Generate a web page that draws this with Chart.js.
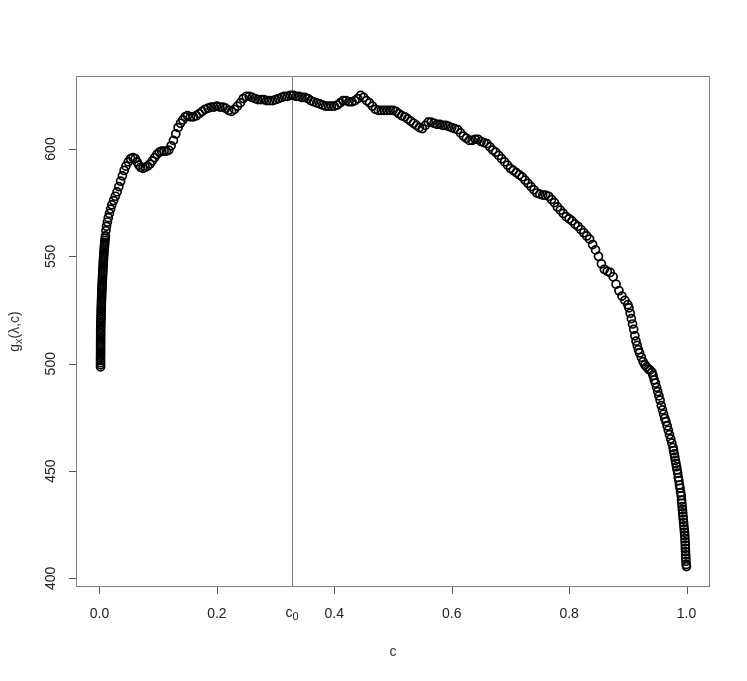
<!DOCTYPE html>
<html>
<head>
<meta charset="utf-8">
<script src="https://cdn.jsdelivr.net/npm/chart.js@4.4.1/dist/chart.umd.min.js"></script>
<style>
  body { margin: 0; background: #fff; }
  canvas { display: block; }
</style>
</head>
<body>
<canvas id="gplot" width="747" height="681"></canvas>
<script>
// values
const cVals = [
  // steep start near c = 0
  0.0018, 0.0018, 0.0018, 0.0018, 0.0018, 0.0018, 0.0019, 0.0019, 0.0019, 0.0019,
  0.0019, 0.0019, 0.002, 0.002, 0.002, 0.002, 0.002, 0.002,
  0.0021, 0.0022, 0.0023, 0.0024, 0.0025, 0.0026, 0.0027, 0.0028, 0.0029, 0.0030,
  0.0031, 0.0032, 0.0033, 0.0034, 0.0036, 0.0037, 0.0038, 0.0040, 0.0041, 0.0043,
  0.0044, 0.0046, 0.0048, 0.0050, 0.0052, 0.0054, 0.0056, 0.0058, 0.0060,
  0.0062, 0.0064, 0.0066, 0.0068, 0.0070, 0.0072, 0.0075, 0.0078, 0.0081, 0.0084,
  0.0087, 0.0090, 0.0094, 0.0098, 0.0102,
  0.011, 0.012, 0.0135, 0.015, 0.017, 0.019, 0.021, 0.024,
  0.027, 0.030, 0.033, 0.036, 0.039, 0.042, 0.045, 0.049, 0.053, 0.057,
  0.061, 0.064, 0.067, 0.070, 0.074, 0.078, 0.082, 0.086, 0.090, 0.094,
  0.098, 0.102, 0.106, 0.110, 0.114, 0.118, 0.122, 0.126, 0.130, 0.134,
  0.138, 0.142, 0.146, 0.150, 0.155, 0.160, 0.165, 0.170, 0.175, 0.180,
  0.185, 0.190, 0.195, 0.200, 0.205, 0.210, 0.215, 0.220, 0.225, 0.230,
  0.235, 0.240, 0.245, 0.250, 0.255, 0.260, 0.265, 0.270, 0.275, 0.280,
  0.285, 0.290, 0.295, 0.300, 0.305, 0.310, 0.315, 0.320, 0.325, 0.330,
  0.335, 0.340, 0.345, 0.350, 0.355, 0.360, 0.365, 0.370, 0.375, 0.380,
  0.385, 0.390, 0.395, 0.400, 0.405, 0.410, 0.415, 0.420, 0.425, 0.430,
  0.435, 0.440, 0.445, 0.450, 0.455, 0.460, 0.465, 0.470, 0.475, 0.480,
  0.485, 0.490, 0.495, 0.500, 0.505, 0.510, 0.515, 0.520, 0.525, 0.530,
  0.535, 0.540, 0.545, 0.550, 0.555, 0.560, 0.565, 0.570, 0.575, 0.580,
  0.585, 0.590, 0.595, 0.600, 0.605, 0.610, 0.615, 0.620, 0.625, 0.630,
  0.635, 0.640, 0.645, 0.650, 0.655, 0.660, 0.665, 0.670, 0.675, 0.680,
  0.685, 0.690, 0.695, 0.700, 0.705, 0.710, 0.715, 0.720, 0.725, 0.730,
  0.735, 0.740, 0.745, 0.750, 0.755, 0.760, 0.765, 0.770, 0.775, 0.780,
  0.785, 0.790, 0.795, 0.800, 0.805, 0.810, 0.815, 0.820, 0.825, 0.830,
  0.835, 0.840, 0.845, 0.850, 0.855, 0.860, 0.865, 0.870, 0.875, 0.880,
  0.885, 0.890, 0.895,
  // steep fall towards c = 1
  0.900, 0.902, 0.904, 0.906, 0.908, 0.910, 0.912, 0.914, 0.916, 0.918,
  0.920, 0.923, 0.926, 0.929, 0.932, 0.935, 0.938, 0.941, 0.943, 0.945,
  0.947, 0.949, 0.951, 0.953, 0.955, 0.957, 0.959, 0.961, 0.963, 0.965,
  0.967, 0.969, 0.971, 0.973, 0.975, 0.977, 0.978, 0.979, 0.980, 0.981,
  0.982, 0.983, 0.984, 0.985, 0.986, 0.987, 0.988, 0.989, 0.990, 0.991,
  0.9915, 0.992, 0.9925, 0.993, 0.9935, 0.994, 0.9945, 0.995, 0.9955, 0.996,
  0.9965, 0.997, 0.9973, 0.9976, 0.9979, 0.998, 0.9983, 0.9986, 0.9988, 0.999,
  0.9995, 1.000
];
const gVals = [
  498.5, 499.5, 500.5, 501.5, 502.5, 503.5, 504.5, 505.5, 506.5, 507.5,
  508.5, 509.5, 510.5, 511.5, 512.5, 513.5, 514.5, 515.5,
  516.5, 517.5, 518.5, 519.5, 520.5, 521.5, 522.5, 523.5, 524.5, 525.5,
  526.5, 527.5, 528.5, 529.5, 530.5, 531.5, 532.5, 533.5, 534.5, 535.5,
  536.5, 537.5, 538.5, 539.5, 540.5, 541.5, 542.5, 543.5, 544.5,
  545.5, 546.5, 547.5, 548.5, 549.5, 550.5, 551.5, 552.5, 553.5, 554.5,
  555.5, 556.5, 557.5, 558.5, 559.5,
  562, 564, 566, 568, 570, 572, 574, 576,
  578, 580, 582.5, 585, 587.5, 590, 592, 594, 595.5, 596,
  595.5, 594, 592.5, 591.5, 591, 591.5, 592, 593, 594.5, 596,
  597.5, 598.5, 599, 599, 599, 599.5, 601.5, 604, 607, 610,
  612, 613.5, 615, 615.5, 615, 615, 615.5, 616.5, 617.5, 618.5,
  619, 619.5, 619.5, 620, 619.5, 619.5, 619, 618, 617.5, 618.5,
  620, 621.5, 623.5, 624.5, 624.5, 624, 623.5, 623, 623, 623,
  622.5, 622.5, 622.5, 623, 623.5, 624, 624.5, 624.5, 625, 625,
  624.5, 624.5, 624, 624, 623.5, 622.5, 622, 621.5, 621, 620.5,
  620, 620, 620, 620, 620.5, 621.5, 622.5, 622.5, 622, 622,
  622.5, 623.5, 625, 624, 622.5, 621.5, 620, 618.5, 618, 618,
  618, 618, 618, 618, 617.5, 616.5, 615.5, 615, 614, 613,
  612, 611, 610, 609.5, 611, 612.5, 612.5, 612, 611.5, 611.5,
  611, 611, 610.5, 610, 609.5, 609, 607.5, 606, 605, 604,
  604, 604.5, 604.5, 603.5, 603, 602.5, 601, 599.5, 598.5, 597,
  595.5, 594, 592.5, 591, 590, 589, 588, 587, 585.5, 584,
  582.5, 581, 579.5, 579, 578.5, 578.5, 578, 576.5, 575, 573,
  571.5, 570, 568.5, 567.5, 566.5, 565, 564, 562.5, 561, 559.5,
  558, 555.5, 553, 550, 546.5, 544, 543, 542.5, 540.5, 537,
  534, 531.5, 529.5,
  527.5, 526, 523.5, 521, 518.5, 516, 513, 510.5, 508.5, 506.5,
  505, 503, 501, 499.5, 498.5, 497.5, 497, 496, 494.5, 492.5,
  491, 489, 487, 485, 483, 480.5, 478.5, 476.5, 474.5, 473,
  471, 469, 467, 465, 463, 461, 459.5, 458, 456.5, 455,
  453.5, 452, 450.5, 449, 447, 445.5, 443.5, 442, 440, 438.5,
  436.5, 435, 433.5, 432, 430.5, 429, 427.5, 426, 424.5, 423,
  421.5, 420, 418.5, 417, 415.5, 414, 412.5, 411, 409.5, 408,
  406.5, 405.5
];
const xTicks = [0, 0.2, 0.4, 0.6, 0.8, 1.0];
const xTickLabels = ['0.0', '0.2', '0.4', '0.6', '0.8', '1.0'];
const yTicks = [400, 450, 500, 550, 600];
const c0 = 0.328;

const points = cVals.map((c, i) => ({ x: c, y: gVals[i] }));
const FONT_FAMILY = '"Liberation Sans", Arial, sans-serif';

// base letter + subscript (+ rest), centred on the current origin
function drawSub(ctx, base, sub, rest, size) {
  const small = Math.round(size * 0.75);
  ctx.font = size + 'px ' + FONT_FAMILY;
  const wb = ctx.measureText(base).width;
  const wr = rest ? ctx.measureText(rest).width : 0;
  ctx.font = small + 'px ' + FONT_FAMILY;
  const ws = ctx.measureText(sub).width;
  const x0 = -(wb + ws + wr) / 2;
  ctx.textAlign = 'left';
  ctx.textBaseline = 'alphabetic';
  ctx.font = size + 'px ' + FONT_FAMILY;
  ctx.fillText(base, x0, size * 0.35);
  ctx.font = small + 'px ' + FONT_FAMILY;
  ctx.fillText(sub, x0 + wb, size * 0.6);
  if (rest) {
    ctx.font = size + 'px ' + FONT_FAMILY;
    ctx.fillText(rest, x0 + wb + ws, size * 0.35);
  }
}

const rAxes = {
  id: 'rAxes',
  beforeDatasetsDraw(chart) {
    const { ctx, chartArea: a, scales: { x } } = chart;
    const px = Math.round(x.getPixelForValue(c0)) + 0.5;
    ctx.save();
    ctx.strokeStyle = '#808080';
    ctx.lineWidth = 1;
    ctx.beginPath();
    ctx.moveTo(px, a.top);
    ctx.lineTo(px, a.bottom);
    ctx.stroke();
    ctx.restore();
  },
  afterDraw(chart) {
    const { ctx, chartArea: a, scales: { x, y } } = chart;
    ctx.save();
    // box
    ctx.strokeStyle = '#808080';
    ctx.lineWidth = 1;
    ctx.strokeRect(Math.round(a.left) + 0.5, Math.round(a.top) + 0.5,
      Math.round(a.right - a.left) - 1, Math.round(a.bottom - a.top) - 1);

    // ticks
    ctx.strokeStyle = '#555';
    ctx.beginPath();
    xTicks.forEach(v => {
      const px = Math.round(x.getPixelForValue(v)) + 0.5;
      ctx.moveTo(px, a.bottom);
      ctx.lineTo(px, a.bottom + 7);
    });
    yTicks.forEach(v => {
      const py = Math.round(y.getPixelForValue(v)) + 0.5;
      ctx.moveTo(a.left, py);
      ctx.lineTo(a.left - 7, py);
    });
    ctx.stroke();

    // tick labels
    ctx.fillStyle = '#222';
    ctx.font = '14px ' + FONT_FAMILY;
    ctx.textAlign = 'center';
    ctx.textBaseline = 'middle';
    xTicks.forEach((v, i) => {
      ctx.fillText(xTickLabels[i], x.getPixelForValue(v), a.bottom + 27);
    });
    yTicks.forEach(v => {
      ctx.save();
      ctx.translate(a.left - 25, y.getPixelForValue(v));
      ctx.rotate(-Math.PI / 2);
      ctx.fillText(String(v), 0, 0);
      ctx.restore();
    });

    // c0 label
    ctx.save();
    ctx.translate(x.getPixelForValue(c0), a.bottom + 25);
    drawSub(ctx, 'c', '0', '', 14);
    ctx.restore();

    // axis titles
    ctx.fillStyle = '#333';
    ctx.font = '14px ' + FONT_FAMILY;
    ctx.textAlign = 'center';
    ctx.textBaseline = 'middle';
    ctx.fillText('c', (a.left + a.right) / 2, a.bottom + 65);
    ctx.save();
    ctx.translate(14, (a.top + a.bottom) / 2);
    ctx.rotate(-Math.PI / 2);
    drawSub(ctx, 'g', 'x', '(\u03bb,c)', 14);
    ctx.restore();
    ctx.restore();
  }
};

new Chart(document.getElementById('gplot'), {
  type: 'scatter',
  data: {
    datasets: [{
      data: points,
      pointStyle: 'circle',
      pointRadius: 4,
      borderColor: '#000',
      borderWidth: 1.7,
      backgroundColor: 'rgba(0,0,0,0)'
    }]
  },
  options: {
    responsive: false,
    animation: false,
    layout: { padding: { left: 76, right: 37, top: 76, bottom: 94 } },
    plugins: {
      legend: { display: false },
      tooltip: { enabled: false }
    },
    scales: {
      x: { type: 'linear', min: -0.04, max: 1.04, display: false },
      y: { type: 'linear', min: 396, max: 634, display: false }
    }
  },
  plugins: [rAxes]
});
</script>
</body>
</html>
